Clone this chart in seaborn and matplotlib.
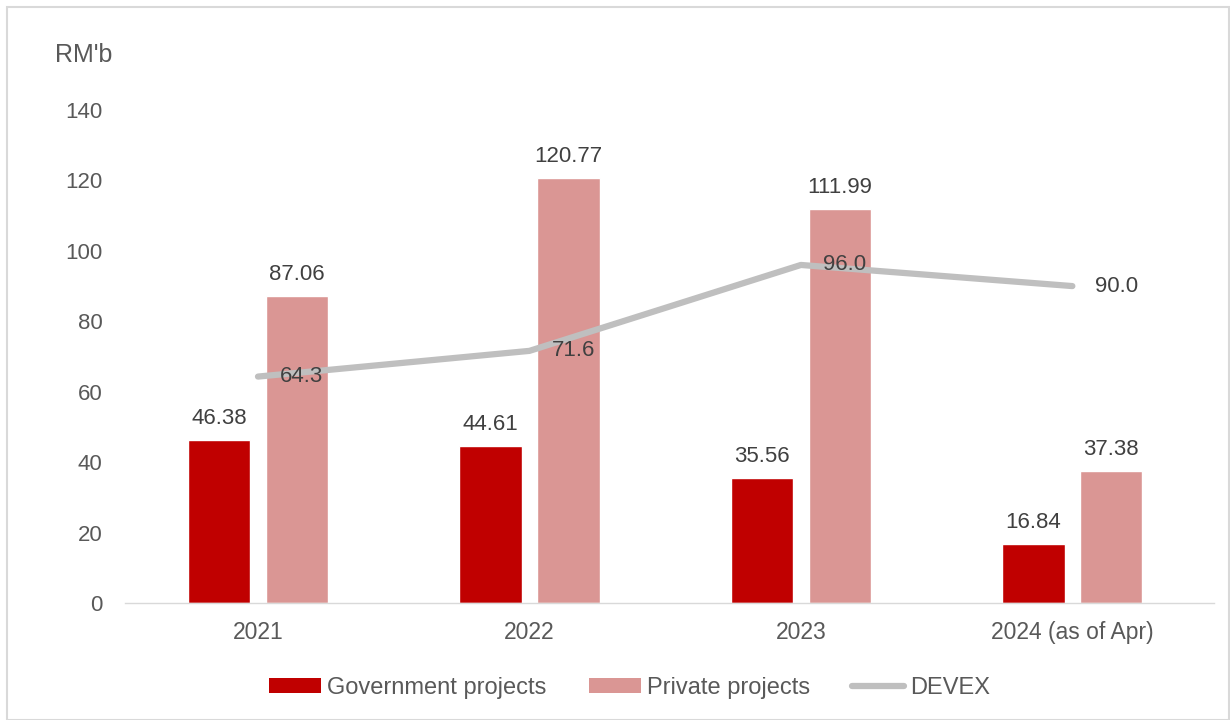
import matplotlib
matplotlib.use("Agg")
import matplotlib.pyplot as plt
import seaborn as sns
import pandas as pd
from matplotlib.patches import Rectangle, Patch
from matplotlib.lines import Line2D

years = ["2021", "2022", "2023", "2024 (as of Apr)"]
government = [46.38, 44.61, 35.56, 16.84]
private = [87.06, 120.77, 111.99, 37.38]
devex = [64.3, 71.6, 96.0, 90.0]
yticks = [0, 20, 40, 60, 80, 100, 120, 140]

sns.set_theme(style="white")
plt.rcParams['font.family'] = ['Liberation Sans', 'DejaVu Sans']

GOV_C = "#C00000"
PRI_C = "#DA9694"
LINE_C = "#BFBFBF"
TXT = "#595959"
LBL = "#404040"

df = pd.DataFrame({
    "year": years * 2,
    "value": government + private,
    "type": ["Government projects"] * 4 + ["Private projects"] * 4,
})

fig = plt.figure(figsize=(12.3, 7.2), dpi=100)
ax = fig.add_axes([0.1016, 0.1625, 0.885, 0.6847])

sns.barplot(data=df, x="year", y="value", hue="type", order=years,
            hue_order=["Government projects", "Private projects"],
            palette=[GOV_C, PRI_C], width=0.574, gap=0.2, ax=ax,
            errorbar=None, saturation=1, legend=False)

ldf = pd.DataFrame({"year": years, "devex": devex})
sns.lineplot(data=ldf, x="year", y="devex", color=LINE_C, linewidth=4.5,
             ax=ax, sort=False, zorder=3)

ax.set_ylim(0, 140)
ax.set_yticks(yticks)
ax.set_xlim(-0.49, 3.52)
ax.set_xlabel("")
ax.set_ylabel("")
for s in ["top", "right", "left"]:
    ax.spines[s].set_visible(False)
ax.spines["bottom"].set_color("#D9D9D9")
ax.spines["bottom"].set_linewidth(1)
ax.tick_params(axis="y", length=0, pad=16, labelsize=16, labelcolor=TXT)
ax.tick_params(axis="x", length=0, pad=13, labelsize=16.5, labelcolor=TXT)

# bar labels
for cont in ax.containers:
    ax.bar_label(cont, fmt="%.2f", padding=8, fontsize=16, color=LBL)

# line labels (right of point)
for i, v in enumerate(devex):
    ax.annotate(f"{v:.1f}", (i, v), xytext=(16, 0), textcoords="offset points",
                ha="left", va="center", fontsize=16, color=LBL, zorder=4)

fig.text(55 / 1230, 1 - 55 / 720, "RM'b", fontsize=18, color=TXT,
         ha="left", va="center")

handles = [Patch(facecolor=GOV_C, edgecolor="none"),
           Patch(facecolor=PRI_C, edgecolor="none"),
           Line2D([0], [0], color=LINE_C, linewidth=4.5, solid_capstyle="round")]
leg = fig.legend(handles, ["Government projects", "Private projects", "DEVEX"],
                 loc="center", bbox_to_anchor=(0.512, 1 - 688 / 720), ncol=3,
                 frameon=False, fontsize=17, handlelength=2.2, handleheight=0.6,
                 handletextpad=0.25, columnspacing=1.8)
for t in leg.get_texts():
    t.set_color(TXT)

fig.patches.append(Rectangle((7 / 1230, 0.0), 1 - 7 / 1230 - 0.001, 1 - 7 / 720,
                             transform=fig.transFigure, fill=False,
                             edgecolor="#D9D9D9", linewidth=1.5))

fig.savefig("out.png", dpi=100)
